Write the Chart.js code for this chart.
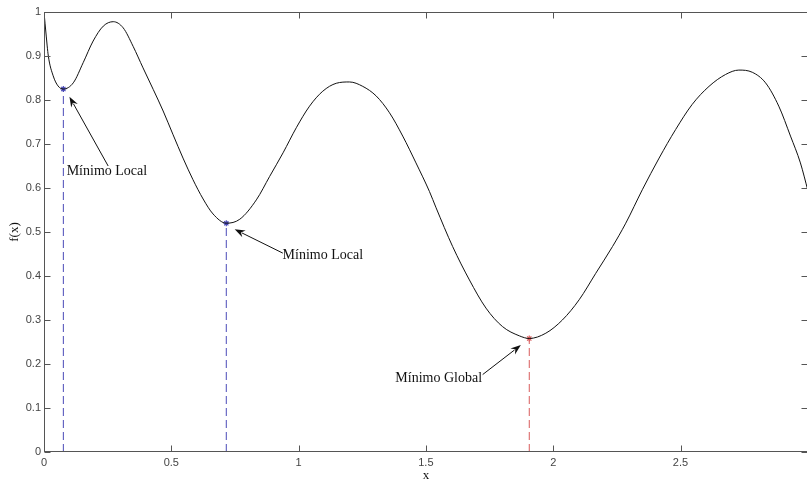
<!DOCTYPE html>
<html>
<head>
<meta charset="utf-8">
<script src="https://cdn.jsdelivr.net/npm/chart.js@4"></script>
<style>
  body { margin: 0; width: 807px; height: 483px; overflow: hidden; background: #fff; }
  canvas { display: block; }
</style>
</head>
<body>
<canvas id="chart" width="813" height="483"></canvas>
<script>
// curve
var xs = [0, 0.008, 0.017, 0.036, 0.055, 0.076, 0.115, 0.154, 0.193, 0.233, 0.272, 0.311, 0.35, 0.389,
  0.429, 0.468, 0.507, 0.546, 0.585, 0.625, 0.664, 0.716, 0.769, 0.834, 0.886, 0.939, 0.991, 1.043,
  1.095, 1.148, 1.2, 1.252, 1.305, 1.357, 1.409, 1.461, 1.514, 1.54, 1.605, 1.671, 1.736, 1.801,
  1.867, 1.906, 1.971, 2.036, 2.102, 2.167, 2.233, 2.285, 2.35, 2.416, 2.481, 2.546, 2.612, 2.677,
  2.729, 2.782, 2.834, 2.886, 2.932, 2.971, 3.0];
var fx = [1.0, 0.95, 0.90, 0.855, 0.832, 0.825, 0.839, 0.885, 0.934, 0.968, 0.978, 0.964, 0.922, 0.873,
  0.824, 0.775, 0.721, 0.668, 0.619, 0.575, 0.541, 0.520, 0.529, 0.573, 0.626, 0.680, 0.737, 0.786,
  0.820, 0.838, 0.841, 0.831, 0.809, 0.771, 0.718, 0.657, 0.592, 0.555, 0.467, 0.391, 0.327, 0.285,
  0.264, 0.258, 0.270, 0.300, 0.346, 0.406, 0.467, 0.520, 0.596, 0.668, 0.733, 0.790, 0.831, 0.858,
  0.868, 0.863, 0.839, 0.786, 0.718, 0.657, 0.595];

// minima
var minX = [0.076, 0.716, 1.906];
var minY = [0.825, 0.520, 0.258];
var minColors = ['#4a4ab8', '#4a4ab8', '#d85c5c'];

// annotations (data units)
var noteText = ['Mínimo Local', 'Mínimo Local', 'Mínimo Global'];
var noteX = [0.089, 0.937, 1.380];
var noteY = [0.639, 0.447, 0.168];
var arrowTailX = [0.252, 0.938, 1.723];
var arrowTailY = [0.650, 0.452, 0.176];
var arrowHeadX = [0.100, 0.749, 1.873];
var arrowHeadY = [0.8075, 0.506, 0.243];

var xTicks = [0, 0.5, 1, 1.5, 2, 2.5, 3];
var yTicks = [0, 0.1, 0.2, 0.3, 0.4, 0.5, 0.6, 0.7, 0.8, 0.9, 1];

var datasets = [{
  data: xs.map(function (x, i) { return { x: x, y: fx[i] }; }),
  borderColor: '#111',
  borderWidth: 1,
  pointRadius: 0,
  cubicInterpolationMode: 'monotone'
}];
minX.forEach(function (mx, i) {
  datasets.push({
    data: [{ x: mx, y: 0 }, { x: mx, y: minY[i] }],
    borderColor: minColors[i],
    borderWidth: 1,
    borderDash: [8, 4],
    pointRadius: [0, 3],
    pointStyle: 'star',
    pointBorderColor: minColors[i],
    pointBorderWidth: 1.2
  });
});

var boxPlugin = {
  id: 'box',
  afterDatasetsDraw: function (chart) {
    var ctx = chart.ctx, a = chart.chartArea, sx = chart.scales.x, sy = chart.scales.y;
    var L = Math.round(a.left) + 0.5, R = Math.round(a.right) - 0.5;
    var T = Math.round(a.top) + 0.5, B = Math.round(a.bottom) - 0.5;
    ctx.save();
    ctx.strokeStyle = '#555';
    ctx.lineWidth = 1;
    ctx.strokeRect(L, T, R - L, B - T);
    ctx.beginPath();
    xTicks.forEach(function (v) {
      var p = Math.round(sx.getPixelForValue(v)) + 0.5;
      ctx.moveTo(p, B); ctx.lineTo(p, B - 6);
      ctx.moveTo(p, T); ctx.lineTo(p, T + 6);
    });
    yTicks.forEach(function (v) {
      var p = Math.round(sy.getPixelForValue(v)) + 0.5;
      ctx.moveTo(L, p); ctx.lineTo(L + 6, p);
      ctx.moveTo(R, p); ctx.lineTo(R - 6, p);
    });
    ctx.stroke();

    // annotations
    ctx.fillStyle = '#111';
    ctx.strokeStyle = '#111';
    ctx.font = '14px "Liberation Serif", "Times New Roman", serif';
    ctx.textBaseline = 'middle';
    ctx.textAlign = 'left';
    noteText.forEach(function (t, i) {
      ctx.fillText(t, sx.getPixelForValue(noteX[i]), sy.getPixelForValue(noteY[i]));
      var x0 = sx.getPixelForValue(arrowTailX[i]), y0 = sy.getPixelForValue(arrowTailY[i]);
      var x1 = sx.getPixelForValue(arrowHeadX[i]), y1 = sy.getPixelForValue(arrowHeadY[i]);
      var ang = Math.atan2(y1 - y0, x1 - x0);
      ctx.beginPath();
      ctx.moveTo(x0, y0);
      ctx.lineTo(x1 - 8 * Math.cos(ang), y1 - 8 * Math.sin(ang));
      ctx.stroke();
      ctx.beginPath();
      ctx.moveTo(x1, y1);
      ctx.lineTo(x1 - 11 * Math.cos(ang - 0.35), y1 - 11 * Math.sin(ang - 0.35));
      ctx.lineTo(x1 - 7 * Math.cos(ang), y1 - 7 * Math.sin(ang));
      ctx.lineTo(x1 - 11 * Math.cos(ang + 0.35), y1 - 11 * Math.sin(ang + 0.35));
      ctx.closePath();
      ctx.fill();
    });
    ctx.restore();
  }
};

var tickFont = { family: '"Liberation Sans", Arial, sans-serif', size: 11 };
var titleFont = { family: '"Liberation Serif", "Times New Roman", serif', size: 13 };

new Chart(document.getElementById('chart').getContext('2d'), {
  type: 'line',
  data: { datasets: datasets },
  options: {
    responsive: false,
    animation: false,
    layout: { padding: { top: 12, right: 0, bottom: 0, left: 0 } },
    plugins: { legend: { display: false }, tooltip: { enabled: false } },
    scales: {
      x: {
        type: 'linear', min: 0, max: 3,
        afterBuildTicks: function (s) { s.ticks = xTicks.map(function (v) { return { value: v }; }); },
        afterFit: function (s) { s.height = 31; },
        grid: { display: false, drawTicks: false },
        border: { display: false },
        ticks: {
          color: '#444', font: tickFont, padding: 4, maxRotation: 0,
          callback: function (v) { return v === 3 ? '' : String(v); }
        },
        title: { display: true, text: 'x', color: '#111', font: titleFont, padding: { top: 0, bottom: 0 } }
      },
      y: {
        type: 'linear', min: 0, max: 1,
        afterBuildTicks: function (s) { s.ticks = yTicks.map(function (v) { return { value: v }; }); },
        afterFit: function (s) { s.width = 44; },
        grid: { display: false, drawTicks: false },
        border: { display: false },
        ticks: { color: '#444', font: tickFont, padding: 3, callback: function (v) { return String(v); } },
        title: { display: true, text: 'f(x)', color: '#111', font: titleFont, padding: { top: 7, bottom: 0 } }
      }
    }
  },
  plugins: [boxPlugin]
});
</script>
</body>
</html>
